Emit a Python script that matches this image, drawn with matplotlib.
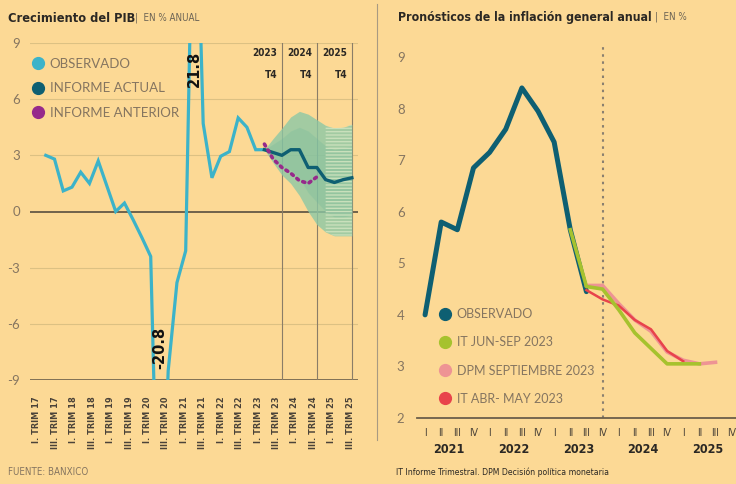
import numpy as np
import matplotlib
matplotlib.use("Agg")
import matplotlib.pyplot as plt
from matplotlib import font_manager
from matplotlib.font_manager import FontProperties
from matplotlib.lines import Line2D
from matplotlib.transforms import blended_transform_factory

# ---- left panel: GDP growth, quarters counted from I 2017 (q = 0) ----
gdp_obs_q = list(range(0, 26))
gdp_obs = [3.0, 2.8, 1.1, 1.3, 2.1, 1.5, 2.7, 1.35, 0.0, 0.45, -0.45, -1.4, -2.4,
           -20.8, -8.5, -3.8, -2.1, 21.8, 4.7, 1.8, 2.95, 3.2, 5.0, 4.5, 3.3, 3.3]
gdp_fc_q = list(range(25, 36))
gdp_actual = [3.3, 3.15, 3.0, 3.3, 3.3, 2.35, 2.35, 1.7, 1.55, 1.7, 1.8]
gdp_prev_q = list(range(25, 32))
gdp_prev = [3.6, 2.8, 2.35, 2.05, 1.65, 1.5, 1.85]
fan_hi = [3.3, 3.9, 4.45, 5.05, 5.35, 5.2, 4.9, 4.6, 4.45, 4.5, 4.65]
fan_lo = [3.3, 2.6, 1.95, 1.5, 0.85, 0.0, -0.7, -1.1, -1.3, -1.3, -1.3]
fan_in_hi = [3.3, 3.6, 3.9, 4.3, 4.5, 4.3, 3.9, 3.5, 3.3, 3.4, 3.5]
fan_in_lo = [3.3, 2.9, 2.4, 2.2, 1.8, 1.0, 0.5, 0.0, -0.3, -0.3, -0.2]
t4_lines = [27, 31, 35]
t4_years = ["2023", "2024", "2025"]
gdp_xlabels = []
for yy in range(17, 26):
    gdp_xlabels += ["I. TRIM %d" % yy, "III. TRIM %d" % yy]

# ---- right panel: inflation, quarters counted from I 2021 (t = 0) ----
inf_obs_t = list(range(0, 11))
inf_obs = [4.0, 5.8, 5.65, 6.85, 7.15, 7.6, 8.4, 7.95, 7.35, 5.65, 4.45]
it_junsep_t = list(range(9, 18))
it_junsep = [5.65, 4.55, 4.5, 4.1, 3.65, 3.35, 3.05, 3.05, 3.05]
dpm_sep_t = list(range(10, 19))
dpm_sep = [4.57, 4.57, 4.22, 3.9, 3.68, 3.28, 3.12, 3.05, 3.08]
it_abrmay_t = list(range(10, 17))
it_abrmay = [4.48, 4.3, 4.18, 3.9, 3.72, 3.3, 3.1]
roman = ["I", "II", "III", "IV"] * 5
years = ["2021", "2022", "2023", "2024", "2025"]

BG = "#fcd995"
CYAN = "#3cb3c9"
TEAL = "#0e5f72"
MAGENTA = "#962a8b"
GREEN = "#a6c22e"
PINK = "#ee9494"
RED = "#e8434b"
GRAY = "#857560"
DARK = "#2b2824"


def find_condensed(bold):
    # look for any narrow / condensed face among installed fonts
    best = None
    for f in font_manager.fontManager.ttflist:
        narrow = (str(f.stretch) in ("condensed", "semi-condensed", "extra-condensed",
                                     "ultra-condensed")
                  or "Narrow" in f.name or "Condensed" in f.name)
        if not narrow or f.style != "normal":
            continue
        w = f.weight if isinstance(f.weight, int) else (700 if "bold" in str(f.weight) else 400)
        score = abs(w - (700 if bold else 400))
        if best is None or score < best[0]:
            best = (score, f.fname)
    if best is None:
        return FontProperties(family="DejaVu Sans", weight="bold" if bold else "normal")
    return FontProperties(fname=best[1])


CB = find_condensed(True)
CN = find_condensed(False)
names = {f.name for f in font_manager.fontManager.ttflist}
LIGHT = "Lato" if "Lato" in names else "DejaVu Sans"
plt.rcParams["font.family"] = [LIGHT, "DejaVu Sans"]


def cfont(base, size):
    p = base.copy()
    p.set_size(size)
    return p


fig = plt.figure(figsize=(7.36, 4.84), dpi=100, facecolor=BG)

# ================= left =================
ax = fig.add_axes([30 / 736, 1 - 380 / 484, 328 / 736, 337 / 484])
ax.set_facecolor(BG)
ax.set_xlim(-1.8, 35.7)
ax.set_ylim(-9, 9)
for s in ax.spines.values():
    s.set_visible(False)
for g in [9, 6, 3, -3, -6]:
    ax.axhline(g, color="#dcc183", lw=0.8, zorder=1)
ax.axhline(0, color="#4a4238", lw=1.1, zorder=2)
ax.axhline(-9, color="#6b5f4a", lw=1.2, zorder=2)
for x, yr in zip(t4_lines, t4_years):
    ax.axvline(x, color="#8a7d68", lw=0.8, zorder=2)
    ax.text(x - 0.55, 8.45, yr, ha="right", va="center", fontproperties=cfont(CB, 7.2),
            color=DARK)
    ax.text(x - 0.55, 7.3, "T4", ha="right", va="center", fontproperties=cfont(CB, 7.2),
            color=DARK)

ax.fill_between(gdp_fc_q, fan_lo, fan_hi, color="#8cc8a6", alpha=0.8, lw=0, zorder=3)
ax.fill_between(gdp_fc_q, fan_in_lo, fan_in_hi, color="#6db79a", alpha=0.25, lw=0, zorder=3)
ax.fill_between(gdp_fc_q[7:], fan_lo[7:], fan_hi[7:],
                facecolor="none", edgecolor="#c9e0bb", hatch="-----", lw=0, zorder=3)

ax.plot(gdp_obs_q, gdp_obs, color=CYAN, lw=2.3, zorder=5, solid_joinstyle="miter")
ax.plot(gdp_fc_q, gdp_actual, color=TEAL, lw=2.4, zorder=6)
ax.plot(gdp_prev_q, gdp_prev, color=MAGENTA, lw=2.6, linestyle=(0, (0.6, 1.3)),
        dash_capstyle="round", zorder=7)

ax.text(17, 7.6, "21.8", rotation=90, ha="center", va="center", fontsize=10.5,
        fontweight="bold", family="DejaVu Sans", color="#111111", zorder=8)
ax.text(13, -7.3, "-20.8", rotation=90, ha="center", va="center", fontsize=10.5,
        fontweight="bold", family="DejaVu Sans", color="#111111", zorder=8)

ax.set_yticks([9, 6, 3, 0, -3, -6, -9])
ax.set_yticklabels(["9", "6", "3", "0", "-3", "-6", "-9"])
ax.tick_params(axis="y", length=0, pad=7, labelsize=9.5, labelcolor=GRAY)
ax.set_xticks(np.linspace(-1.0, 34.8, 18))
ax.set_xticklabels(gdp_xlabels, rotation=90, va="top", ha="center",
                   fontproperties=cfont(CB, 6.6), color="#4a4238")
ax.tick_params(axis="x", length=0, pad=12)

h1 = [Line2D([], [], marker="o", ls="", color=c, markersize=8.5) for c in (CYAN, TEAL, MAGENTA)]
ax.legend(h1, ["OBSERVADO", "INFORME ACTUAL", "INFORME ANTERIOR"], loc="upper left",
          bbox_to_anchor=(0.004, 0.956), frameon=False, borderpad=0, borderaxespad=0,
          handlelength=1, handletextpad=0.4, labelspacing=0.95, fontsize=9.5,
          labelcolor=GRAY)

fig.text(8 / 736, 1 - 18 / 484, "Crecimiento del PIB", fontproperties=cfont(CB, 9.2),
         color=DARK, va="center")
fig.text(135 / 736, 1 - 18 / 484, "|  EN % ANUAL", fontproperties=cfont(CN, 7),
         color="#6b6355", va="center")
fig.text(8 / 736, 1 - 472 / 484, "FUENTE: BANXICO", fontproperties=cfont(CN, 7),
         color=GRAY, va="center")

# divider
fig.add_artist(Line2D([377 / 736, 377 / 736], [1 - 440 / 484, 1 - 4 / 484], color="#a89a82", lw=0.8))

# ================= right =================
ax2 = fig.add_axes([417 / 736, 1 - 418 / 484, 319 / 736, 373.9 / 484])
ax2.set_facecolor(BG)
ax2.set_xlim(-0.5, 19.27)
ax2.set_ylim(2, 9.25)
for k, s in ax2.spines.items():
    s.set_visible(k == "bottom")
ax2.spines["bottom"].set_color("#6b5f4a")
ax2.spines["bottom"].set_linewidth(1.3)
ax2.axvline(11, color="#8a8070", lw=1.5, linestyle=(0, (1.2, 2.2)), zorder=1)

ax2.plot(inf_obs_t, inf_obs, color=TEAL, lw=3.6, solid_capstyle="round", zorder=3)
ax2.plot(dpm_sep_t, dpm_sep, color=PINK, lw=2.6, zorder=4)
ax2.plot(it_abrmay_t, it_abrmay, color=RED, lw=1.8, zorder=5)
ax2.plot(it_junsep_t, it_junsep, color=GREEN, lw=2.6, zorder=6)

ax2.set_yticks(range(2, 10))
ax2.tick_params(axis="y", length=0, pad=9, labelsize=9.5, labelcolor=GRAY)
ax2.set_xticks(range(20))
ax2.set_xticklabels(roman, fontproperties=cfont(CN, 7.5), color="#4a4238")
ax2.tick_params(axis="x", length=0, pad=7)
tr = blended_transform_factory(ax2.transData, ax2.transAxes)
for i, yr in enumerate(years):
    ax2.text(4 * i + 1.5, -0.085, yr, transform=tr, ha="center", va="center",
             fontproperties=cfont(CB, 9), color=DARK)

h2 = [Line2D([], [], marker="o", ls="", color=c, markersize=8.5) for c in (TEAL, GREEN, PINK, RED)]
ax2.legend(h2, ["OBSERVADO", "IT JUN-SEP 2023", "DPM SEPTIEMBRE 2023", "IT ABR- MAY 2023"],
           loc="upper left", bbox_to_anchor=(0.068, 0.294), frameon=False, borderpad=0,
           borderaxespad=0, handlelength=1, handletextpad=0.45, labelspacing=1.3,
           fontsize=9, labelcolor=GRAY)

fig.text(398 / 736, 1 - 17 / 484, "Pronósticos de la inflación general anual",
         fontproperties=cfont(CB, 8.8), color=DARK, va="center")
fig.text(655 / 736, 1 - 17 / 484, "|  EN %", fontproperties=cfont(CN, 7), color="#6b6355",
         va="center")
fig.text(396 / 736, 1 - 472 / 484, "IT Informe Trimestral. DPM Decisión política monetaria",
         fontproperties=cfont(CN, 6.2), color=DARK, va="center")

fig.savefig("out.png", dpi=100, facecolor=BG)
